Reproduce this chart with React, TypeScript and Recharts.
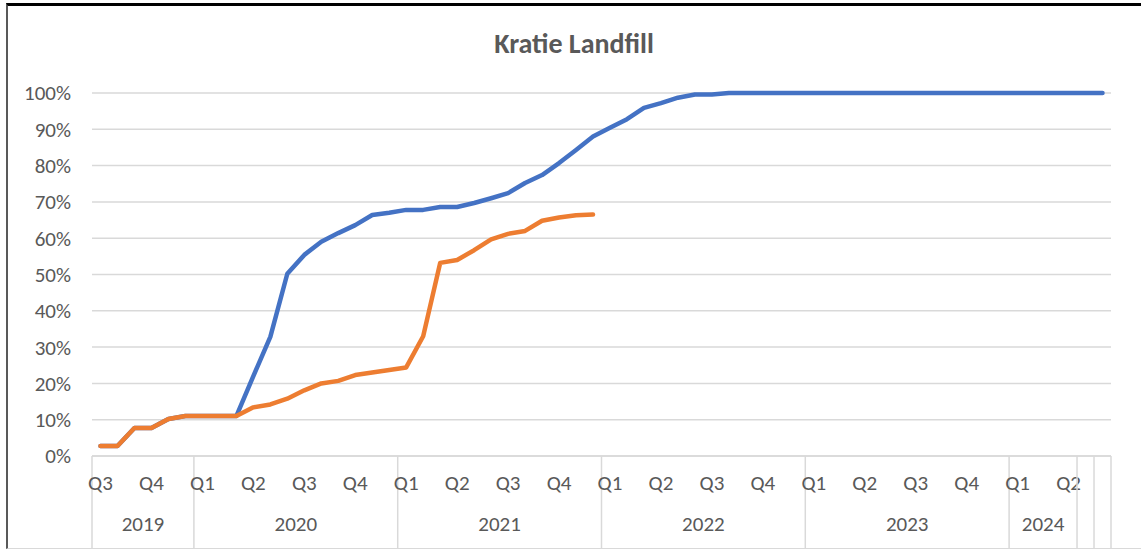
import { LineChart, Line, XAxis, YAxis, CartesianGrid } from 'recharts';

// year groups on the lower axis level and how many monthly points each holds
const yearGroups = ['2019', '2020', '2021', '2022', '2023', '2024', '', ''];
const monthsInGroup = [6, 12, 12, 12, 12, 4, 1, 1];
const firstMonth = [7, 1, 1, 1, 1, 1, 0, 0];

const yTicks = [0, 10, 20, 30, 40, 50, 60, 70, 80, 90, 100];

// progress, %
const bluePct = [
  2.75, 2.75, 7.7, 7.7, 10.2, 11,
  11, 11, 11, 22, 32.8, 50.2, 55.4, 59, 61.4, 63.6, 66.4, 67,
  67.8, 67.8, 68.6, 68.6, 69.7, 71, 72.4, 75.2, 77.4, 80.7, 84.3, 88,
  90.4, 92.8, 95.9, 97.2, 98.7, 99.6, 99.6, 100, 100, 100, 100, 100,
  100, 100, 100, 100, 100, 100, 100, 100, 100, 100, 100, 100,
  100, 100, 100, 100,
  100,
  100,
];
const orangePct = [
  2.75, 2.75, 7.7, 7.7, 10.2, 11,
  11, 11, 11, 13.4, 14.2, 15.8, 18.1, 20, 20.7, 22.3, 23, 23.7,
  24.4, 33, 53.2, 54, 56.7, 59.7, 61.2, 62, 64.8, 65.7, 66.3, 66.5,
];

// build the monthly categories
const months: { year: string; month: number }[] = [];
yearGroups.forEach((y, gi) => {
  for (let k = 0; k < monthsInGroup[gi]; k++) {
    months.push({ year: y, month: firstMonth[gi] ? firstMonth[gi] + k : 0 });
  }
});

const data = months.map((m, i) => ({
  pos: i + 0.5,
  blue: bluePct[i] ?? null,
  orange: orangePct[i] ?? null,
}));

const boundaries: number[] = [0];
monthsInGroup.forEach((n) => boundaries.push(boundaries[boundaries.length - 1] + n));

const quarterAt = new Map<number, string>();
months.forEach((m, i) => {
  if (m.month && (m.month - 1) % 3 === 0) quarterAt.set(i + 0.5, 'Q' + ((m.month - 1) / 3 + 1));
});

const yearAt = new Map<number, string>();
yearGroups.forEach((y, gi) => {
  if (y) yearAt.set(boundaries[gi] + monthsInGroup[gi] / 2, y);
});

const xTicks = [...boundaries, ...quarterAt.keys(), ...yearAt.keys()].sort((a, b) => a - b);

const FONT = "Carlito, Calibri, 'Open Sans', sans-serif";
const TEXT = '#595959';
const GRID = '#d9d9d9';

const AxisTick = (props: any) => {
  const { x, y, payload } = props;
  const v = payload.value;
  if (boundaries.includes(v)) {
    return <line x1={x} x2={x} y1={y} y2={y + 92} stroke={GRID} strokeWidth={1.5} />;
  }
  if (quarterAt.has(v)) {
    return (
      <text x={x} y={y + 34} textAnchor="middle" fill={TEXT} fontSize={21} fontFamily={FONT}>
        {quarterAt.get(v)}
      </text>
    );
  }
  return (
    <text x={x} y={y + 75} textAnchor="middle" fill={TEXT} fontSize={21} fontFamily={FONT}>
      {yearAt.get(v)}
    </text>
  );
};

export default function App() {
  return (
    <div style={{ position: 'absolute', left: 0, top: 0, width: 1141, height: 551, background: '#fff' }}>
      <div
        style={{
          position: 'absolute',
          left: 6,
          top: 3,
          width: 1135,
          height: 546,
          borderTop: '3px solid #000',
          borderLeft: '2px solid #595959',
          borderBottom: '1px solid #d9d9d9',
          boxSizing: 'border-box',
        }}
      />
      <svg width={1141} height={80} style={{ position: 'absolute', left: 0, top: 0 }}>
        <text x={574} y={53} textAnchor="middle" fill={TEXT} fontSize={28} fontWeight="bold" fontFamily={FONT}>
          Kratie Landfill
        </text>
      </svg>
      <div style={{ position: 'absolute', left: 0, top: 0 }}>
        <LineChart width={1141} height={551} data={data} margin={{ top: 93, right: 30, bottom: 0, left: 0 }}>
          <CartesianGrid vertical={false} stroke={GRID} strokeWidth={1.5} />
          <XAxis
            dataKey="pos"
            type="number"
            domain={[0, 60]}
            ticks={xTicks}
            interval={0}
            height={95}
            tickSize={0}
            tickMargin={0}
            tickLine={false}
            axisLine={{ stroke: GRID, strokeWidth: 1.5 }}
            tick={<AxisTick />}
          />
          <YAxis
            width={92}
            domain={[0, 100]}
            ticks={yTicks}
            interval={0}
            tickFormatter={(v: number) => `${v}%`}
            axisLine={false}
            tickLine={false}
            tickMargin={15}
            tick={{ fill: TEXT, fontSize: 21, fontFamily: FONT }}
          />
          <Line
            dataKey="blue"
            stroke="#4472C4"
            strokeWidth={4.5}
            strokeLinecap="round"
            strokeLinejoin="round"
            dot={false}
            isAnimationActive={false}
          />
          <Line
            dataKey="orange"
            stroke="#ED7D31"
            strokeWidth={4.5}
            strokeLinecap="round"
            strokeLinejoin="round"
            dot={false}
            isAnimationActive={false}
          />
        </LineChart>
      </div>
    </div>
  );
}
